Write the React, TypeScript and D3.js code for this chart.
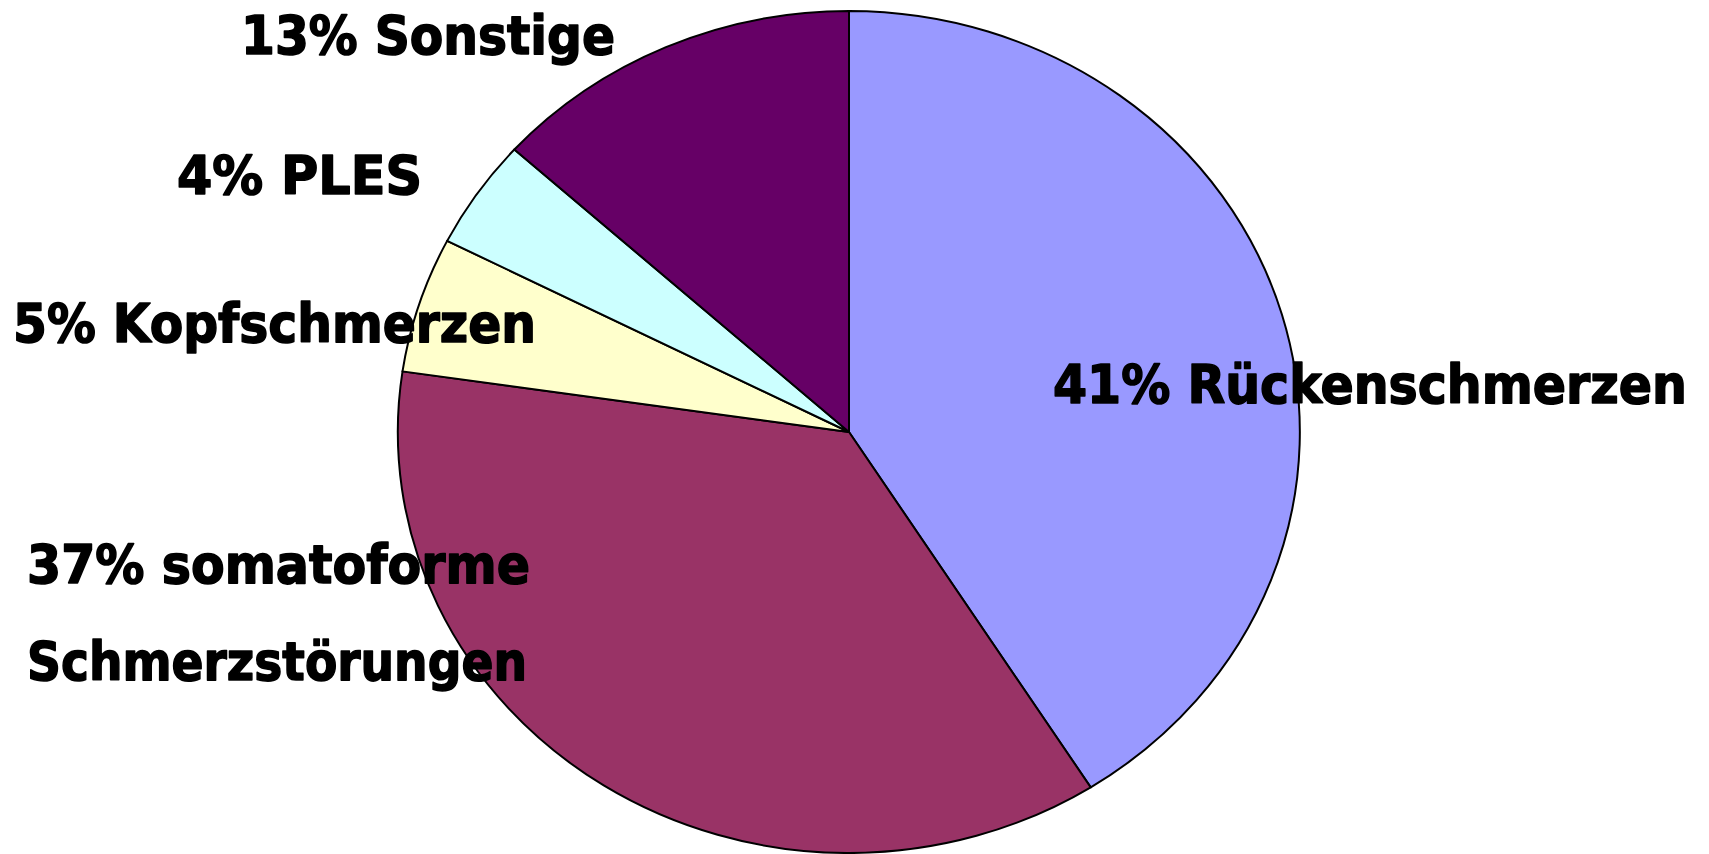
import React from "react";
import * as d3 from "d3";

const categories = ["Rückenschmerzen", "somatoforme Schmerzstörungen", "Kopfschmerzen", "PLES", "Sonstige"];
const values = [41, 36.3, 5.2, 4.2, 13.3];
const colors = ["#9999FF", "#993366", "#FFFFCC", "#CCFFFF", "#660066"];
const labelLines = [
  ["41% Rückenschmerzen"],
  ["37% somatoforme", "Schmerzstörungen"],
  ["5% Kopfschmerzen"],
  ["4% PLES"],
  ["13% Sonstige"],
];

const W = 1709;
const H = 854;
const cx = 849;
const cy = 432;
const rx = 451;
const ry = 421;

// text layout: [x, baseline y, width] per line
const labelLayout: [number, number, number][][] = [
  [[1053, 403, 634]],
  [[27, 583, 503], [27, 680, 500]],
  [[13, 342, 523]],
  [[177, 194, 245]],
  [[241, 54, 374]],
];

export default function App() {
  const pie = d3.pie<number>().sort(null).value((d) => d);
  const arcs = pie(values);
  const arc = d3.arc<d3.PieArcDatum<number>>().innerRadius(0).outerRadius(1);
  return (
    <svg
      width={W}
      height={H}
      viewBox={`0 0 ${W} ${H}`}
      style={{ position: "absolute", left: 0, top: 0, display: "block", background: "#fff" }}
    >
      <g transform={`translate(${cx},${cy}) scale(${rx},${ry})`}>
        {arcs.map((a, i) => (
          <path
            key={categories[i]}
            d={arc(a) || ""}
            fill={colors[i]}
            stroke="#000"
            strokeWidth={2}
            strokeLinejoin="round"
            vectorEffect="non-scaling-stroke"
          />
        ))}
      </g>
      {labelLines.map((lines, i) =>
        lines.map((t, j) => {
          const [x, y, w] = labelLayout[i][j];
          return (
            <text
              key={`${i}-${j}`}
              x={x}
              y={y}
              textLength={w}
              lengthAdjust="spacingAndGlyphs"
              fontFamily="'DejaVu Sans', Verdana, sans-serif"
              fontWeight="bold"
              fontSize={54}
              fill="#000"
              stroke="#000"
              strokeWidth={1.6}
              strokeLinejoin="round"
            >
              {t}
            </text>
          );
        })
      )}
    </svg>
  );
}
